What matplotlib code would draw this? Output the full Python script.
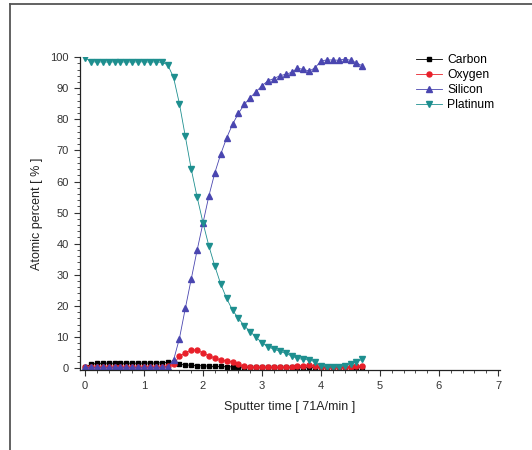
import matplotlib
matplotlib.use("Agg")
import matplotlib.pyplot as plt
from matplotlib.lines import Line2D
from matplotlib.ticker import MultipleLocator

plt.rcParams['font.family'] = ['Liberation Sans', 'DejaVu Sans']

sputter_time = [0.0, 0.1, 0.2, 0.3, 0.4, 0.5, 0.6, 0.7, 0.8, 0.9,
                1.0, 1.1, 1.2, 1.3, 1.4, 1.5, 1.6, 1.7, 1.8, 1.9,
                2.0, 2.1, 2.2, 2.3, 2.4, 2.5, 2.6, 2.7, 2.8, 2.9,
                3.0, 3.1, 3.2, 3.3, 3.4, 3.5, 3.6, 3.7, 3.8, 3.9,
                4.0, 4.1, 4.2, 4.3, 4.4, 4.5, 4.6, 4.7]

carbon = [0.2, 1.2, 1.5, 1.5, 1.6, 1.5, 1.6, 1.5, 1.6, 1.5,
          1.6, 1.6, 1.6, 1.7, 1.8, 2.0, 1.2, 1.0, 0.9, 0.8,
          0.7, 0.6, 0.5, 0.5, 0.4, 0.4, 0.3, 0.3, 0.2, 0.2,
          0.2, 0.2, 0.2, 0.2, 0.2, 0.2, 0.2, 0.2, 0.2, 0.2,
          0.2, 0.2, 0.2, 0.2, 0.2, 0.2, 0.2, 0.2]

oxygen = [0.3, 0.3, 0.2, 0.4, 0.3, 0.2, 0.3, 0.4, 0.3, 0.2,
          0.3, 0.4, 0.3, 0.3, 0.5, 1.2, 3.8, 4.9, 5.8, 5.8,
          4.8, 4.0, 3.2, 2.6, 2.3, 2.0, 1.3, 0.5, 0.4, 0.3,
          0.3, 0.3, 0.3, 0.3, 0.4, 0.4, 0.5, 0.8, 1.0, 0.8,
          0.4, 0.3, 0.3, 0.3, 0.4, 0.4, 0.5, 0.6]

silicon = [0.2, 0.3, 0.2, 0.3, 0.2, 0.3, 0.2, 0.3, 0.2, 0.3,
           0.2, 0.3, 0.2, 0.3, 0.4, 2.5, 9.5, 19.2, 28.6, 37.9,
           46.7, 55.4, 62.8, 68.8, 74.0, 78.4, 81.9, 84.8, 87.0, 88.9,
           90.8, 92.4, 93.1, 94.0, 94.5, 95.1, 96.4, 96.1, 95.5, 96.6,
           98.8, 99.1, 99.1, 99.0, 99.4, 99.0, 98.2, 97.2]

platinum = [99.8, 98.6, 98.4, 98.5, 98.4, 98.5, 98.4, 98.5, 98.4, 98.5,
            98.5, 98.4, 98.5, 98.3, 97.6, 93.5, 85.0, 74.5, 64.0, 55.0,
            46.7, 39.2, 32.8, 27.0, 22.4, 18.6, 16.0, 13.6, 11.7, 9.9,
            8.1, 6.8, 6.1, 5.4, 4.7, 3.9, 3.1, 2.8, 2.6, 2.0,
            0.5, 0.3, 0.2, 0.4, 0.8, 1.4, 2.0, 2.8]

fig = plt.figure(figsize=(5.32, 4.5), dpi=100)
ax = fig.add_axes([0.1504, 0.178, 0.789, 0.695])

ax.plot(sputter_time, carbon, color='black', marker='s', ms=3.0, lw=0.6, label='Carbon')
ax.plot(sputter_time, oxygen, color='#e8202a', marker='o', ms=3.6, lw=0.6, label='Oxygen')
ax.plot(sputter_time, silicon, color='#4a46b0', marker='^', ms=4.2, lw=0.6, label='Silicon')
ax.plot(sputter_time, platinum, color='#1e8f8f', marker='v', ms=4.2, lw=0.6, label='Platinum')

ax.set_xlim(-0.085, 7.03)
ax.set_ylim(-0.6, 100)
ax.xaxis.set_major_locator(MultipleLocator(1))
ax.xaxis.set_minor_locator(MultipleLocator(0.2))
ax.yaxis.set_major_locator(MultipleLocator(10))
ax.yaxis.set_minor_locator(MultipleLocator(2))
ax.tick_params(which='major', length=4, width=0.8, labelsize=8, colors='#333333', pad=4)
ax.tick_params(which='minor', length=2, width=0.6, colors='#333333')
for s in ['top', 'right']:
    ax.spines[s].set_visible(False)
for s in ['left', 'bottom']:
    ax.spines[s].set_color('#222222')
    ax.spines[s].set_linewidth(0.9)

ax.set_xlabel('Sputter time [ 71A/min ]', fontsize=9, color='#222222')
ax.set_ylabel('Atomic percent [ % ]', fontsize=9, color='#222222')
ax.xaxis.set_label_coords(0.5, -0.1)
ax.yaxis.set_label_coords(-0.088, 0.5)

ax.legend(loc='upper left', bbox_to_anchor=(0.80, 1.01), frameon=False,
          fontsize=8.7, handlelength=2.2, handletextpad=0.4, labelspacing=0.25,
          borderpad=0, borderaxespad=0)

# frame around the picture (top and left edges)
fig.add_artist(Line2D([10 / 532, 10 / 532], [0, 1 - 4 / 450], transform=fig.transFigure,
                      color='#555555', lw=1.3))
fig.add_artist(Line2D([10 / 532, 1], [1 - 4 / 450, 1 - 4 / 450], transform=fig.transFigure,
                      color='#555555', lw=1.3))

fig.savefig('out.png', dpi=100)
